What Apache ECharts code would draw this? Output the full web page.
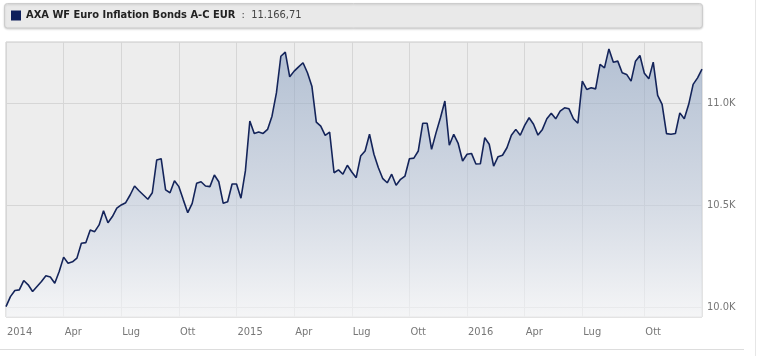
<!DOCTYPE html>
<html>
<head>
<meta charset="utf-8">
<script src="https://cdn.jsdelivr.net/npm/echarts@6/dist/echarts.min.js"></script>
<style>
  html, body { margin: 0; padding: 0; background: #ffffff; }
  #chart { width: 758px; height: 356px; }
</style>
</head>
<body>
<div id="chart"></div>
<script>
// ---- Data (weekly NAV) ----
const seriesName = 'AXA WF Euro Inflation Bonds A-C EUR';
const firstDate = '2014-01-03';   // first weekly observation
const navValues = [
  10001, 10050, 10080, 10083, 10129, 10108, 10075, 10100, 10124, 10152,
  10146, 10116, 10173, 10244, 10214, 10221, 10239, 10312, 10315, 10377,
  10369, 10402, 10472, 10413, 10443, 10484, 10500, 10511, 10549, 10593,
  10570, 10549, 10528, 10560, 10721, 10727, 10574, 10560, 10619, 10590,
  10525, 10462, 10508, 10606, 10614, 10593, 10590, 10647, 10614, 10508,
  10516, 10603, 10603, 10533, 10667, 10912, 10851, 10858, 10851, 10871,
  10936, 11050, 11230, 11250, 11129, 11157, 11178, 11198, 11149, 11083,
  10907, 10887, 10842, 10858, 10658, 10672, 10651, 10695, 10662, 10634,
  10740, 10765, 10847, 10749, 10683, 10629, 10609, 10651, 10597, 10626,
  10642, 10727, 10730, 10765, 10901, 10901, 10773, 10854, 10928, 11010,
  10793, 10847, 10802, 10716, 10749, 10753, 10701, 10702, 10830, 10798,
  10691, 10737, 10744, 10781, 10842, 10871, 10842, 10891, 10928, 10896,
  10843, 10871, 10923, 10950, 10923, 10961, 10977, 10972, 10923, 10901,
  11108, 11067, 11075, 11070, 11190, 11173, 11266, 11201, 11206, 11149,
  11141, 11108, 11206, 11234, 11146, 11119, 11201, 11038, 10994, 10850,
  10847, 10851, 10952, 10923, 10994, 11092, 11124, 11166.71
];
const yTickValues = [10000, 10500, 11000];
const monthNames = ['Gen','Feb','Mar','Apr','Mag','Giu','Lug','Ago','Set','Ott','Nov','Dic'];
const lastValueLabel = '11.166,71';

// weekly date categories
const dates = [];
(function () {
  const d0 = new Date(firstDate + 'T00:00:00Z');
  for (let i = 0; i < navValues.length; i++) {
    const d = new Date(d0.getTime() + i * 7 * 86400000);
    dates.push(d.toISOString().slice(0, 10));
  }
})();
function monthOf(s) { return parseInt(s.slice(5, 7), 10) - 1; }
function isQuarterStart(idx) {
  if (idx >= dates.length - 1) return false;
  const m = monthOf(dates[idx]);
  if (m % 3 !== 0) return false;
  if (idx === 0) return true;
  return monthOf(dates[idx - 1]) !== m;
}

const FONT = "'DejaVu Sans Condensed', 'Liberation Sans', sans-serif";
const chart = echarts.init(document.getElementById('chart'), null, { renderer: 'canvas' });

const option = {
  animation: false,
  backgroundColor: '#ffffff',
  graphic: [
    { type: 'rect', z: -10, shape: { x: 4.5, y: 3.5, width: 698, height: 24.5, r: 3 },
      style: { fill: '#e9e9e9', stroke: '#cdcdcd', lineWidth: 1,
               shadowBlur: 2, shadowOffsetY: 1, shadowColor: 'rgba(0,0,0,0.15)' } },
    { type: 'line', z: -10, shape: { x1: 0, y1: 349.5, x2: 744, y2: 349.5 },
      style: { stroke: '#dddddd', lineWidth: 1 } },
    { type: 'line', z: -10, shape: { x1: 755.5, y1: 0, x2: 755.5, y2: 356 },
      style: { stroke: '#e6e6e6', lineWidth: 1 } }
  ],
  legend: {
    left: 7, top: 7,
    padding: [3, 4],
    itemWidth: 10, itemHeight: 10, itemGap: 6,
    icon: 'rect',
    selectedMode: false,
    data: [{ name: seriesName, itemStyle: { color: '#0e1f5b' } }],
    formatter: function (name) { return '{b|' + name + '}{v|  :  ' + lastValueLabel + '}'; },
    textStyle: {
      fontFamily: FONT,
      rich: {
        b: { fontFamily: FONT, fontWeight: 'bold', fontSize: 11, color: '#222222' },
        v: { fontFamily: FONT, fontSize: 11, color: '#444444' }
      }
    }
  },
  grid: {
    left: 6, right: 56, top: 42, bottom: 39,
    show: true, backgroundColor: '#ededed', borderColor: '#c8c8c8', borderWidth: 1
  },
  xAxis: {
    type: 'category',
    data: dates,
    boundaryGap: false,
    axisLine: { show: false },
    axisTick: { show: false },
    splitLine: { show: true, interval: function (idx) { return isQuarterStart(idx); },
                 lineStyle: { color: '#d6d6d6', width: 1 } },
    axisLabel: {
      interval: function (idx) { return isQuarterStart(idx); },
      formatter: function (v) {
        const m = monthOf(v);
        return m === 0 ? v.slice(0, 4) : monthNames[m];
      },
      align: 'left', margin: 10, padding: [0, 0, 0, 1],
      color: '#777777', fontSize: 11, fontFamily: FONT
    }
  },
  yAxis: {
    type: 'value',
    position: 'right',
    min: 9950, max: 11300,
    axisLine: { show: false },
    axisTick: { show: false, customValues: yTickValues },
    splitLine: { show: true, lineStyle: { color: '#d6d6d6', width: 1 } },
    axisLabel: {
      customValues: yTickValues,
      margin: 5,
      color: '#777777', fontSize: 11, fontFamily: FONT,
      formatter: function (v) { return (v / 1000).toFixed(1) + 'K'; }
    }
  },
  series: [{
    name: seriesName,
    type: 'line',
    data: navValues,
    showSymbol: false,
    symbol: 'none',
    lineStyle: { color: '#14245a', width: 1.6 },
    itemStyle: { color: '#0e1f5b' },
    areaStyle: {
      color: new echarts.graphic.LinearGradient(0, 42, 0, 317, [
        { offset: 0, color: 'rgba(125,150,186,0.75)' },
        { offset: 0.55, color: 'rgba(188,200,219,0.78)' },
        { offset: 1, color: 'rgba(250,251,253,0.85)' }
      ], true)
    }
  }]
};
chart.setOption(option);
</script>
</body>
</html>
